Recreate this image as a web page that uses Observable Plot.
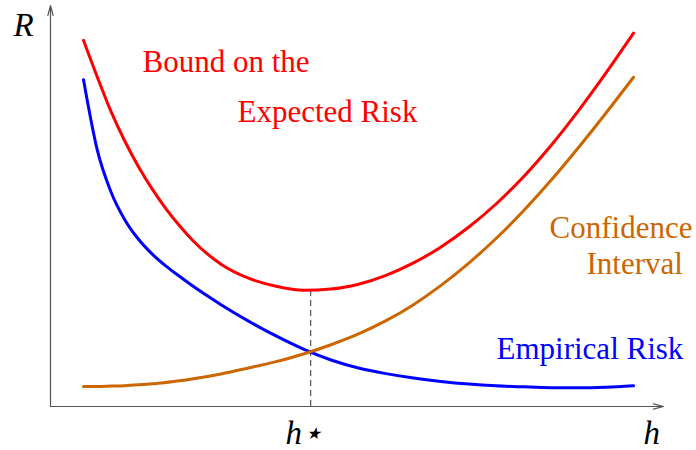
<!DOCTYPE html>
<html>
<head>
<meta charset="utf-8">
<script src="https://cdn.jsdelivr.net/npm/d3@7"></script>
<script src="https://cdn.jsdelivr.net/npm/@observablehq/plot@0.6"></script>
<style>
  html, body { margin: 0; padding: 0; background: #fff; }
</style>
</head>
<body>
<div id="chart"></div>
<script>
// Complexity h (arbitrary units)
const h = [0, 0.25, 0.5, 0.75, 1, 1.25, 1.5, 1.75, 2, 2.5, 3, 3.5, 4, 4.5, 5, 5.5, 6, 6.5, 7, 7.5, 8, 8.5, 9, 9.5, 10];
// Empirical risk (decreasing)
const empiricalRisk = [8.15, 6.40, 5.35, 4.66, 4.17, 3.80, 3.50, 3.24, 2.99, 2.54, 2.13, 1.76, 1.43, 1.16, 0.96, 0.82, 0.71, 0.625, 0.56, 0.515, 0.49, 0.47, 0.465, 0.48, 0.515];
// Confidence interval (increasing)
const confidenceInterval = [0.50, 0.50, 0.51, 0.52, 0.54, 0.565, 0.60, 0.64, 0.69, 0.81, 0.96, 1.12, 1.31, 1.54, 1.81, 2.14, 2.54, 3.02, 3.57, 4.19, 4.88, 5.64, 6.46, 7.32, 8.21];
// Bound on the expected risk
const boundRisk = [9.13, 8.22, 7.36, 6.62, 5.98, 5.42, 4.93, 4.50, 4.12, 3.55, 3.20, 3.00, 2.90, 2.93, 3.05, 3.27, 3.58, 3.98, 4.47, 5.05, 5.73, 6.51, 7.38, 8.32, 9.31];
// Optimum
const hStar = 4.13;
const boundMin = 2.89;

const seriesNames = ["Empirical Risk", "Confidence Interval", "Bound on the Expected Risk"];
const seriesColors = ["#0000ff", "#cc6600", "#ff0000"];

const rows = [];
[empiricalRisk, confidenceInterval, boundRisk].forEach((vals, i) => {
  vals.forEach((v, j) => rows.push({h: h[j], R: v, series: seriesNames[i]}));
});

const serif = "Liberation Serif, Times New Roman, DejaVu Serif, serif";

const labels = [
  {text: "Bound on the", x: 1.073, y: 8.33, color: "#ff0000"},
  {text: "Expected Risk", x: 2.80, y: 7.107, color: "#ff0000"},
  {text: "Confidence", x: 8.473, y: 4.214, color: "#cc6600"},
  {text: "Interval", x: 9.145, y: 3.292, color: "#cc6600"},
  {text: "Empirical Risk", x: 7.509, y: 1.197, color: "#0000ff"}
];
const axisLabels = [
  {text: "R", x: -1.273, y: 9.25},
  {text: "h⋆", x: 3.673, y: -0.923},
  {text: "h", x: 10.18, y: -0.923}
];

const xMin = -0.6, xMax = 10.545, yMax = 10;

const chart = Plot.plot({
  width: 696,
  height: 450,
  marginLeft: 50,
  marginRight: 33,
  marginTop: 5,
  marginBottom: 44,
  x: {domain: [xMin, xMax], axis: null},
  y: {domain: [0, yMax], axis: null},
  color: {domain: seriesNames, range: seriesColors},
  style: {fontFamily: serif, background: "#fff", overflow: "visible"},
  marks: [
    Plot.arrow([{x1: xMin, y1: 0, x2: xMax, y2: 0}], {x1: "x1", y1: "y1", x2: "x2", y2: "y2", stroke: "#555", strokeWidth: 1.2, headLength: 13, headAngle: 30}),
    Plot.arrow([{x1: xMin, y1: 0, x2: xMin, y2: yMax}], {x1: "x1", y1: "y1", x2: "x2", y2: "y2", stroke: "#555", strokeWidth: 1.2, headLength: 13, headAngle: 30}),
    Plot.ruleX([hStar], {y1: 0, y2: boundMin, stroke: "#555", strokeWidth: 1.2, strokeDasharray: "6,4"}),
    Plot.line(rows, {x: "h", y: "R", z: "series", stroke: "series", strokeWidth: 3, curve: "monotone-x"}),
    Plot.text(labels, {x: "x", y: "y", text: "text", fill: "color", textAnchor: "start", lineAnchor: "bottom", fontSize: 31, fontFamily: serif}),
    Plot.text(axisLabels, {x: "x", y: "y", text: "text", fill: "#000", textAnchor: "start", lineAnchor: "bottom", fontSize: 33, fontStyle: "italic", fontFamily: serif})
  ]
});
document.getElementById("chart").appendChild(chart);
</script>
</body>
</html>
